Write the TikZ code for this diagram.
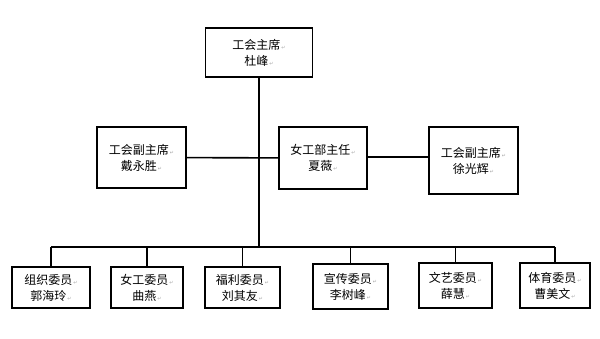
\documentclass[tikz,border=0pt]{standalone}
\usepackage{fontspec}
\setmainfont{Noto Sans CJK SC}
\newfontfamily\markfont{DejaVu Sans}
\usetikzlibrary{positioning}

% Word paragraph mark after each line
\newcommand{\pmark}{{\markfont\fontsize{5}{5}\selectfont\color{gray!70}\,↵}}

\begin{document}
\begin{tikzpicture}[
  x=1pt, y=-1pt,
  post/.style={draw, line width=1.6pt, align=center, inner sep=0pt, font=\fontsize{12}{16}\selectfont},
  link/.style={line width=1.6pt}
]
\useasboundingbox (0,0) rectangle (600,338);
% top
\node[post, minimum width=107pt, minimum height=49pt] (chair) at (259,52.5) {工会主席\pmark\\杜峰\pmark};
% middle row
\node[post, minimum width=89pt, minimum height=61pt] (vice1) at (141.5,157.5) {工会副主席\pmark\\戴永胜\pmark};
\node[post, minimum width=88pt, minimum height=62pt] (women) at (323,158) {女工部主任\pmark\\夏薇\pmark};
\node[post, minimum width=89pt, minimum height=67pt] (vice2) at (473.5,160.5) {工会副主席\pmark\\徐光辉\pmark};
% bottom row
\node[post, minimum width=78pt, minimum height=41pt] (org) at (51,287.5) {组织委员\pmark\\郭海玲\pmark};
\node[post, minimum width=72pt, minimum height=41pt] (nvgong) at (147,287.5) {女工委员\pmark\\曲燕\pmark};
\node[post, minimum width=75pt, minimum height=41pt] (fuli) at (242.5,287.5) {福利委员\pmark\\刘其友\pmark};
\node[post, minimum width=75pt, minimum height=45pt] (xuan) at (350.5,286.5) {宣传委员\pmark\\李树峰\pmark};
\node[post, minimum width=73pt, minimum height=45pt] (wenyi) at (455.5,285.5) {文艺委员\pmark\\薛慧\pmark};
\node[post, minimum width=70pt, minimum height=45pt] (tiyu) at (555,285.5) {体育委员\pmark\\曹美文\pmark};

\coordinate (busL) at (org.north |- 0,247);
\coordinate (busR) at (tiyu.north |- 0,247);
\coordinate (busM) at (chair.south |- 0,247);

\draw[link] (chair) -- (busM);
\draw[link] (vice1) -- (women);
\draw[link] (women.east |- 0,157) -- (vice2.west |- 0,157);
\draw[link] (busL) -- (busR);
\foreach \n in {org,nvgong,fuli,xuan,wenyi,tiyu}
  \draw[link] (\n.north |- busL) -- (\n);
\end{tikzpicture}
\end{document}
